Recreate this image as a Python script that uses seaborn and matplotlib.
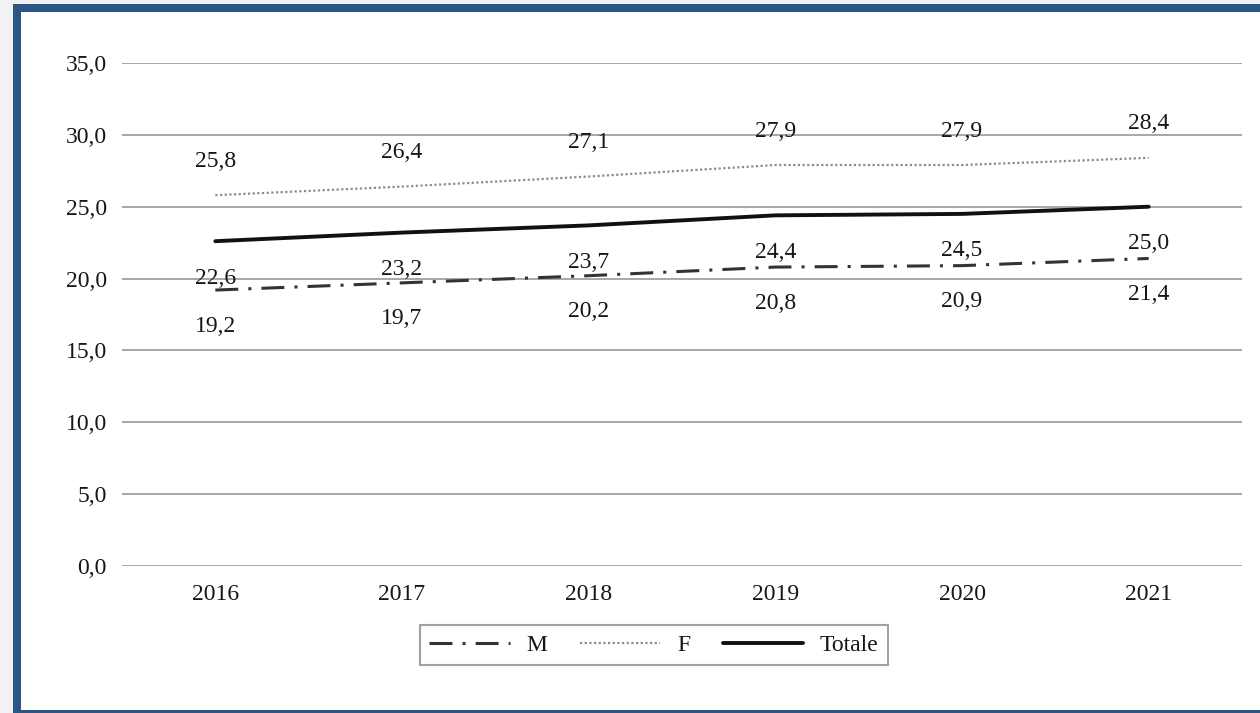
import matplotlib
matplotlib.use("Agg")
from matplotlib import pyplot as plt
from matplotlib.patches import Rectangle
from matplotlib.ticker import FuncFormatter
import pandas as pd
import seaborn as sns

# dati
anni = [2016, 2017, 2018, 2019, 2020, 2021]
maschi = [19.2, 19.7, 20.2, 20.8, 20.9, 21.4]
femmine = [25.8, 26.4, 27.1, 27.9, 27.9, 28.4]
totale = [22.6, 23.2, 23.7, 24.4, 24.5, 25.0]
serie = ["M", "F", "Totale"]
y_ticks = [0, 5, 10, 15, 20, 25, 30, 35]


def virgola(v):
    return f"{v:.1f}".replace(".", ",")


def main():
    df = pd.DataFrame({"Anno": anni, "M": maschi, "F": femmine, "Totale": totale})

    sns.set_style("white")
    plt.rcParams["font.family"] = ["Liberation Serif", "DejaVu Serif"]
    plt.rcParams["text.color"] = "#161616"

    W, H = 1260, 713
    fig = plt.figure(figsize=(W / 100, H / 100), dpi=100, facecolor="#f2f2f2")
    # cornice blu
    fig.patches.append(Rectangle((13 / W, 0), 1, (H - 4) / H, transform=fig.transFigure,
                                 facecolor="#2c5785", edgecolor="none", zorder=-10))
    fig.patches.append(Rectangle((21 / W, 3 / H), 1, (710 - 12) / H, transform=fig.transFigure,
                                 facecolor="white", edgecolor="none", zorder=-9))

    ax = fig.add_axes([122 / W, 1 - 566 / H, (1242 - 122) / W, (566 - 63) / H])
    ax.set_facecolor("none")

    stili = {
        "M": dict(color="#333333", linewidth=2.2, linestyle=(0, (7.5, 3.3, 1, 3.3))),
        "F": dict(color="#8c8c8c", linewidth=1.6, linestyle=(0, (1, 1.1))),
        "Totale": dict(color="#111111", linewidth=2.8, linestyle="-"),
    }
    # spostamento verticale delle etichette (punti)
    offset = {"M": -26, "F": 24.5, "Totale": -26.6}

    for s in serie:
        sns.lineplot(data=df, x="Anno", y=s, ax=ax, label=s, **stili[s])
        for x, v in zip(df["Anno"], df[s]):
            ax.annotate(virgola(v), (x, v), xytext=(0, offset[s]), textcoords="offset points",
                        ha="center", va="center", fontsize=17, color="#161616")

    ax.set_xlim(2015.5, 2021.5)
    ax.set_ylim(0, 35)
    ax.set_yticks(y_ticks)
    ax.yaxis.set_major_formatter(FuncFormatter(lambda v, _: virgola(v)))
    ax.set_xticks(anni)
    ax.set_xticklabels([str(a) for a in anni])
    ax.tick_params(axis="both", length=0, labelsize=17, labelcolor="#161616")
    ax.tick_params(axis="y", pad=11)
    ax.tick_params(axis="x", pad=13)
    ax.set_xlabel("")
    ax.set_ylabel("")
    ax.grid(axis="y", color="#a0a0a0", linewidth=1.3)
    ax.set_axisbelow(True)
    for sp in ax.spines.values():
        sp.set_visible(False)

    leg = ax.legend(loc="center", bbox_to_anchor=(654 / W, 1 - 645 / H),
                    bbox_transform=fig.transFigure, ncol=3, fontsize=17,
                    frameon=True, fancybox=False, handlelength=3.4,
                    handletextpad=0.7, columnspacing=1.4, borderpad=0.4)
    leg.get_frame().set_edgecolor("#8a8a8a")
    leg.get_frame().set_linewidth(1.5)

    fig.savefig("out.png", dpi=100, facecolor=fig.get_facecolor())


if __name__ == "__main__":
    main()
